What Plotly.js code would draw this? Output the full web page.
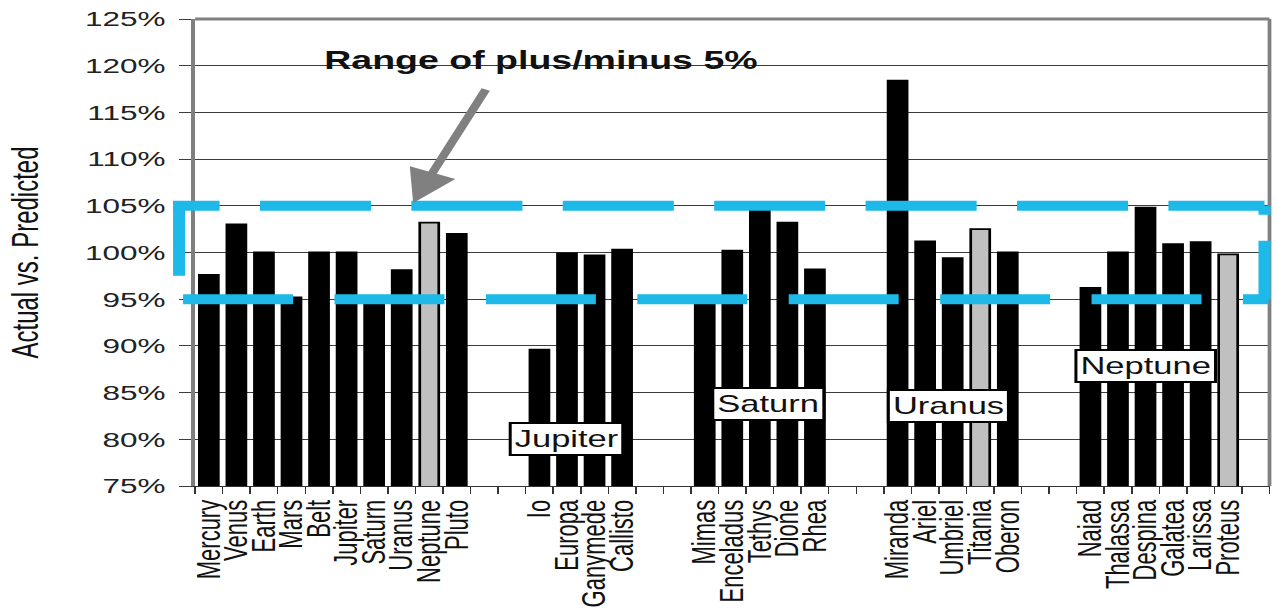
<!DOCTYPE html>
<html>
<head>
<meta charset="utf-8">
<script src="https://cdn.plot.ly/plotly-3.0.1.min.js"></script>
<style>
html, body { margin: 0; padding: 0; overflow: hidden; background: #fff; }
#chart { width: 851px; height: 609px; transform: scale(1.5006, 1); transform-origin: 0 0; }
</style>
</head>
<body>
<div id="chart"></div>
<script>
// ---- data (Actual vs. Predicted, %) ----
const planets      = ['Mercury','Venus','Earth','Mars','Belt','Jupiter','Saturn','Uranus','Neptune','Pluto'];
const planetVals   = [97.6, 103.0, 100.0, 95.2, 100.0, 100.0, 95.3, 98.1, 103.2, 102.0];
const jupiterMoons = ['Io','Europa','Ganymede','Callisto'];
const jupiterVals  = [89.6, 99.9, 99.7, 100.3];
const saturnMoons  = ['Mimas','Enceladus','Tethys','Dione','Rhea'];
const saturnVals   = [95.2, 100.2, 104.7, 103.2, 98.2];
const uranusMoons  = ['Miranda','Ariel','Umbriel','Titania','Oberon'];
const uranusVals   = [118.4, 101.2, 99.4, 102.5, 100.0];
const neptuneMoons = ['Naiad','Thalassa','Despina','Galatea','Larissa','Proteus'];
const neptuneVals  = [96.2, 100.0, 104.8, 100.9, 101.1, 99.8];
const grayBars     = ['Neptune','Titania','Proteus'];
const groupLabels  = ['Jupiter','Saturn','Uranus','Neptune'];
const rangeNote    = 'Range of plus/minus 5%';
const yTitle       = 'Actual vs. Predicted';

// ---- build category axis with empty spacer slots between groups ----
const groups = [
  [planets, planetVals],
  [jupiterMoons, jupiterVals],
  [saturnMoons, saturnVals],
  [uranusMoons, uranusVals],
  [neptuneMoons, neptuneVals]
];
const cats = [], vals = [];
let sp = 0;
function spacer() { sp++; cats.push(' '.repeat(sp)); vals.push(null); }
groups.forEach((g, gi) => {
  g[0].forEach((c, i) => { cats.push(c); vals.push(g[1][i]); });
  if (gi < groups.length - 1) { spacer(); spacer(); } else { spacer(); }
});
const colors = cats.map(c => grayBars.includes(c) ? '#c0c0c0' : '#000000');
const idx = name => cats.indexOf(name);

const FONT = 'Liberation Sans, Arial, sans-serif';
const BLUE = '#1db9e8';
// paper x from reference screen pixel (plot spans 195..1269)
const px = s => (s - 195) / 1074;

const trace = {
  type: 'bar', x: cats, y: vals,
  marker: { color: colors, line: { color: '#000', width: 1.8 } },
  hoverinfo: 'x+y'
};

const layout = {
  width: 851, height: 609,
  margin: { l: 130, r: 5, t: 19, b: 123 },
  paper_bgcolor: '#fff', plot_bgcolor: '#fff',
  showlegend: false,
  bargap: 0.31,
  font: { family: FONT, color: '#111' },
  xaxis: {
    type: 'category', categoryorder: 'array', categoryarray: cats,
    range: [-0.5, cats.length - 0.5],
    tickmode: 'linear', tick0: 0, dtick: 1,
    tickson: 'boundaries', ticks: 'outside', ticklen: 7, tickcolor: '#333', tickwidth: 1,
    showgrid: false, showline: true, linecolor: '#333', linewidth: 1,
    tickangle: -90, tickfont: { family: FONT, size: 22, color: '#111' },
    ticklabelstandoff: 4, fixedrange: true
  },
  yaxis: {
    range: [75, 125], tick0: 75, dtick: 5, ticksuffix: '%',
    showgrid: true, gridcolor: '#3c3c3c', gridwidth: 1, zeroline: false,
    showline: true, linecolor: '#7f7f7f', linewidth: 2.5,
    ticks: 'outside', ticklen: 8, tickcolor: '#3c3c3c', tickwidth: 1,
    tickfont: { family: FONT, size: 21, color: '#222' },
    ticklabelstandoff: 5,
    title: { text: yTitle, font: { family: FONT, size: 24, color: '#111' }, standoff: 24 },
    fixedrange: true
  },
  shapes: [
    // frame top/right
    { type: 'line', xref: 'paper', yref: 'paper', x0: 0, x1: 1, y0: 1, y1: 1, line: { color: '#808080', width: 3 } },
    { type: 'line', xref: 'paper', yref: 'paper', x0: 1, x1: 1, y0: 0, y1: 1, line: { color: '#808080', width: 2.5 } },
    // dashed +/-5% band
    { type: 'line', xref: 'paper', yref: 'y', x0: px(179), x1: px(179), y0: 105.5, y1: 97.5, line: { color: BLUE, width: 8 } },
    { type: 'line', xref: 'paper', yref: 'y', x0: px(173), x1: px(1264), y0: 105, y1: 105,
      line: { color: BLUE, width: 10, dash: '31px,26.9px,74px,26.9px,74px,26.9px,74px,26.9px,74px,26.9px,74px,26.9px,74px,26.9px,74px,26.9px' } },
    { type: 'line', xref: 'paper', yref: 'y', x0: px(1264), x1: px(1264), y0: 105, y1: 95,
      line: { color: BLUE, width: 8, dash: '9px,26px,60px' } },
    { type: 'line', xref: 'paper', yref: 'y', x0: px(183), x1: px(1268), y0: 95, y1: 95,
      line: { color: BLUE, width: 10, dash: '73.3px,27.6px' } }
  ],
  annotations: [
    { xref: 'paper', yref: 'y', x: px(541), y: 120.6, text: '<b>' + rangeNote + '</b>', showarrow: false,
      font: { family: FONT, size: 25, color: '#111' }, xanchor: 'center', yanchor: 'middle' },
    { xref: 'paper', yref: 'y', x: px(413), y: 105.3, ax: 49, ay: -115, axref: 'pixel', ayref: 'pixel',
      text: '', showarrow: true, arrowhead: 2, arrowsize: 1.1, arrowwidth: 6, arrowcolor: '#808080' },
    { x: idx('Europa') - 0.03, y: 80.0, text: groupLabels[0] },
    { x: idx('Tethys') + 0.28, y: 83.8, text: groupLabels[1] },
    { x: idx('Ariel') + 0.83, y: 83.6, text: groupLabels[2] },
    { x: idx('Despina'), y: 87.8, text: groupLabels[3] }
  ].map((a, i) => i < 2 ? a : Object.assign({
      xref: 'x', yref: 'y', showarrow: false, bgcolor: '#fff', bordercolor: '#000', borderwidth: 2, borderpad: 2,
      font: { family: FONT, size: 23, color: '#111' }, xanchor: 'center', yanchor: 'middle'
    }, a))
};

Plotly.newPlot('chart', [trace], layout, { displayModeBar: false, staticPlot: true });
</script>
</body>
</html>
